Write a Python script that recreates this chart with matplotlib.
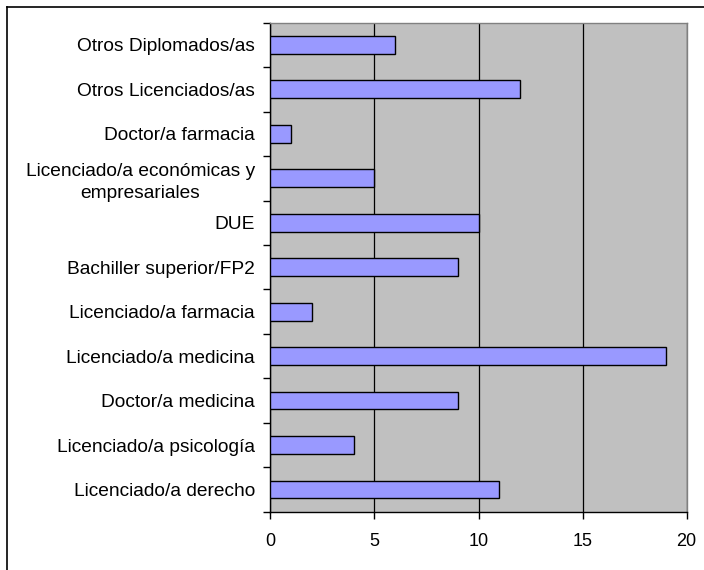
import matplotlib.pyplot as plt
from matplotlib.lines import Line2D
import numpy as np

plt.rcParams['font.family'] = ['Liberation Sans', 'DejaVu Sans']

# categories from bottom to top
categorias = [
    "Licenciado/a derecho",
    "Licenciado/a psicología",
    "Doctor/a medicina",
    "Licenciado/a medicina",
    "Licenciado/a farmacia",
    "Bachiller superior/FP2",
    "DUE",
    "Licenciado/a económicas y\nempresariales",
    "Doctor/a farmacia",
    "Otros Licenciados/as",
    "Otros Diplomados/as",
]
valores = [11, 4, 9, 19, 2, 9, 10, 5, 1, 12, 6]
x_ticks = [0, 5, 10, 15, 20]

fig = plt.figure(figsize=(7.04, 5.70), dpi=100)
ax = fig.add_axes([0.384, 0.1023, 0.5914, 0.8579])
ax.set_facecolor('#c0c0c0')

pos = np.arange(len(categorias))
ax.barh(pos, valores, height=0.4, color='#9999ff', edgecolor='black',
        linewidth=1, zorder=3)

ax.set_xlim(0, 20)
ax.set_ylim(-0.5, len(categorias) - 0.5)
ax.set_xticks(x_ticks)
ax.set_xticklabels([str(t) for t in x_ticks], fontsize=13)
ax.xaxis.grid(True, color='black', linewidth=0.9, zorder=1)
ax.set_axisbelow(True)

ax.set_yticks(pos)
ax.set_yticklabels(categorias, fontsize=13.8, multialignment='center',
                   linespacing=1.4)
ax.set_yticks(np.arange(len(categorias) + 1) - 0.5, minor=True)
ax.tick_params(axis='y', which='major', length=0, pad=11)
ax.tick_params(axis='y', which='minor', length=5, width=1, direction='out')
ax.tick_params(axis='x', length=5, width=1, direction='out', pad=10)

for side in ['left', 'bottom']:
    ax.spines[side].set_color('black')
    ax.spines[side].set_linewidth(1)
for side in ['top', 'right']:
    ax.spines[side].set_color('#808080')
    ax.spines[side].set_linewidth(1)

# outer chart border (only top and left visible in crop)
fig.add_artist(Line2D([6.5 / 704, 1], [1 - 7.3 / 570, 1 - 7.3 / 570],
                      transform=fig.transFigure, color='black', linewidth=1.2))
fig.add_artist(Line2D([6.5 / 704, 6.5 / 704], [0, 1 - 7.3 / 570],
                      transform=fig.transFigure, color='black', linewidth=1.2))

fig.savefig('out.png', dpi=100)
plt.close(fig)
